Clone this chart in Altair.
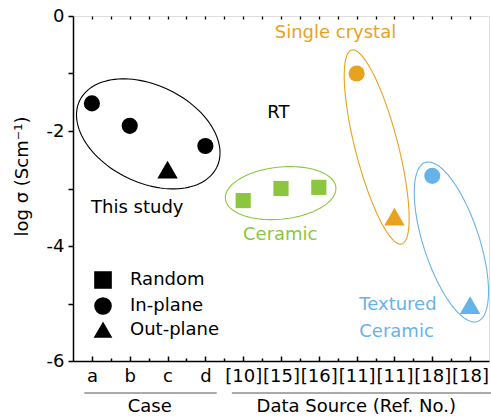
import altair as alt
import numpy as np
import pandas as pd

# ---- data ----
categories = ["a", "b", "c", "d", "[10]", "[15]", "[16]", "[11]", "[11]", "[18]", "[18]"]
log_sigma = [-1.52, -1.91, -2.67, -2.26, -3.21, -3.00, -2.98, -1.00, -3.49, -2.78, -5.03]
orientation = ["In-plane", "In-plane", "Out-plane", "In-plane", "Random", "Random", "Random",
               "In-plane", "Out-plane", "In-plane", "Out-plane"]
group = ["study", "study", "study", "study", "ceramic", "ceramic", "ceramic",
         "single", "single", "textured", "textured"]

group_names = ["study", "ceramic", "single", "textured"]
group_colors = ["#000000", "#8CC63F", "#E8A21F", "#66B3E9"]
shape_names = ["Random", "In-plane", "Out-plane"]
shape_marks = ["square", "circle", "triangle-up"]
shape_sizes = [230, 260, 420]

# annotation ellipses: centre (category index, log sigma) and two semi-axis vectors
ell_group = ["study", "ceramic", "single", "textured"]
ell_cx = [1.49, 4.99, 7.53, 9.505]
ell_cy = [-2.05, -3.08, -2.278, -3.93]
ell_u = [(1.812, -0.581), (1.460, 0.101), (0.661, -1.687), (0.688, -1.383)]
ell_v = [(-0.563, -0.760), (0.071, -0.450), (0.548, 0.093), (0.701, 0.151)]

# annotation texts
ann_text = ["RT", "This study", "Ceramic", "Single crystal", "Textured", "Ceramic"]
ann_x = [4.93, 1.20, 4.98, 6.44, 7.07, 7.07]
ann_y = [-1.69, -3.34, -3.81, -0.30, -5.03, -5.49]
ann_group = ["study", "study", "ceramic", "single", "textured", "textured"]
ann_align = ["center", "center", "center", "center", "left", "left"]

FONT = "DejaVu Sans"
FS = 18
H = 345

pts = pd.DataFrame({
    "idx": list(range(len(categories))),
    "y": log_sigma,
    "orient": orientation,
    "group": group,
})

rows = []
ts = np.linspace(0, 2 * np.pi, 121)
for g, cx, cy, u, v in zip(ell_group, ell_cx, ell_cy, ell_u, ell_v):
    for k, t in enumerate(ts):
        rows.append({"ell": g, "group": g, "k": k,
                     "x": cx + u[0] * np.cos(t) + v[0] * np.sin(t),
                     "y": cy + u[1] * np.cos(t) + v[1] * np.sin(t)})
ell = pd.DataFrame(rows)

ann = pd.DataFrame({"text": ann_text, "x": ann_x, "y": ann_y, "group": ann_group, "align": ann_align})

label_list = "[" + ",".join("'" + c + "'" for c in categories) + "]"

xdom = [-0.5, len(categories) - 0.5]
xscale = alt.Scale(domain=xdom, nice=False, zero=False)
yscale = alt.Scale(domain=[-6, 0], nice=False, zero=False)
cscale = alt.Scale(domain=group_names, range=group_colors)
sscale = alt.Scale(domain=shape_names, range=shape_marks)

x_axis = alt.Axis(values=list(range(len(categories))), labelExpr=label_list + "[datum.value]",
                  ticks=False, grid=False, domainColor="black", domainWidth=1.5,
                  labelFont=FONT, labelFontSize=FS, labelColor="black", labelPadding=6,
                  labelFlush=False, labelOverlap=False, title=None)
y_axis = alt.Axis(values=[-6, -5, -4, -3, -2, -1, 0],
                  labelExpr="datum.value % 2 == 0 ? toString(datum.value) : ''",
                  tickSize=5, tickColor="black", tickWidth=1.5, grid=False,
                  domainColor="black", domainWidth=1.5,
                  labelFont=FONT, labelFontSize=FS, labelColor="black", labelPadding=4,
                  title="log σ (Scm⁻¹)", titleFont=FONT, titleFontSize=FS,
                  titleFontWeight="normal", titleColor="black",
                  titleX=-51, titleY=160, titleAlign="center", titleBaseline="middle")

legend = alt.Legend(title=None, orient="bottom-left", offset=21,
                    labelFont=FONT, labelFontSize=FS, labelColor="black",
                    symbolSize=260, symbolFillColor="black", symbolStrokeColor="black",
                    labelOffset=18, rowPadding=2, padding=0)

point_layers = []
for i, (name, sz) in enumerate(zip(shape_names, shape_sizes)):
    point_layers.append(
        alt.Chart(pts).transform_filter(alt.datum.orient == name)
        .mark_point(filled=True, opacity=1, size=sz)
        .encode(
            x=alt.X("idx:Q", scale=xscale, axis=x_axis),
            y=alt.Y("y:Q", scale=yscale, axis=y_axis),
            color=alt.Color("group:N", scale=cscale, legend=None),
            shape=alt.Shape("orient:N", scale=sscale, legend=legend),
        )
    )

ellipses = alt.Chart(ell).mark_line(strokeWidth=1.1, clip=False).encode(
    x=alt.X("x:Q", scale=xscale),
    y=alt.Y("y:Q", scale=yscale),
    color=alt.Color("group:N", scale=cscale, legend=None),
    detail="ell:N",
    order="k:Q",
)

def text_layer(align):
    return alt.Chart(ann).transform_filter(alt.datum.align == align).mark_text(
        font=FONT, fontSize=FS, baseline="middle", align=align).encode(
        x=alt.X("x:Q", scale=xscale),
        y=alt.Y("y:Q", scale=yscale),
        text="text:N",
        color=alt.Color("group:N", scale=cscale, legend=None),
    )

texts_c = text_layer("center")
texts_l = text_layer("left")

# group labels below the axis
grp_lines = pd.DataFrame({"x1": [-0.2, 3.7], "x2": [3.3, 10.6]})
glines = alt.Chart(grp_lines).mark_rule(color="#555555", strokeWidth=1, clip=False).encode(
    x=alt.X("x1:Q", scale=xscale), x2="x2:Q", y=alt.value(377))
grp_text = pd.DataFrame({"t": ["Case", "Data Source (Ref. No.)"], "x": [1.53, 6.99]})
gtext = alt.Chart(grp_text).mark_text(font=FONT, fontSize=FS, color="black",
                                      baseline="middle", clip=False).encode(
    x=alt.X("x:Q", scale=xscale), y=alt.value(391), text="t:N")

main = alt.layer(ellipses, *point_layers, texts_c, texts_l, glines, gtext)

# inward tick marks: extra axes moved onto the opposite border
major_pos = [float(i) for i in range(len(categories))]
minor_pos = [i + 0.5 for i in range(len(categories) - 1)]
tick_df = pd.DataFrame({"p": [-0.5, 10.5], "v": [-6.0, -6.0]})

def tick_axis_layer(orient, values, size, width):
    ax = alt.Axis(orient=orient, offset=-H, values=values, tickSize=size, tickColor="black",
                  tickWidth=width, labels=False, domain=False, grid=False, title=None)
    return alt.Chart(tick_df).mark_point(opacity=0).encode(
        x=alt.X("p:Q", scale=alt.Scale(domain=xdom, nice=False, zero=False), axis=ax),
        y=alt.Y("v:Q", scale=yscale),
    )

bot_major = tick_axis_layer("top", major_pos, 5, 1.5)
bot_minor = tick_axis_layer("top", minor_pos, 3, 1.5)
top_ticks = tick_axis_layer("bottom", major_pos + minor_pos, 3, 1.3)

chart = alt.layer(main, bot_major, bot_minor, top_ticks).resolve_scale(x="independent").properties(
    width=416, height=H,
    autosize=alt.AutoSizeParams(type="none"),
    padding={"left": 73, "top": 16, "right": 2, "bottom": 59},
).configure_view(stroke="black", strokeWidth=1.5).configure(background="white")

chart.save("out.html", embed_options={"renderer": "svg", "actions": False})
